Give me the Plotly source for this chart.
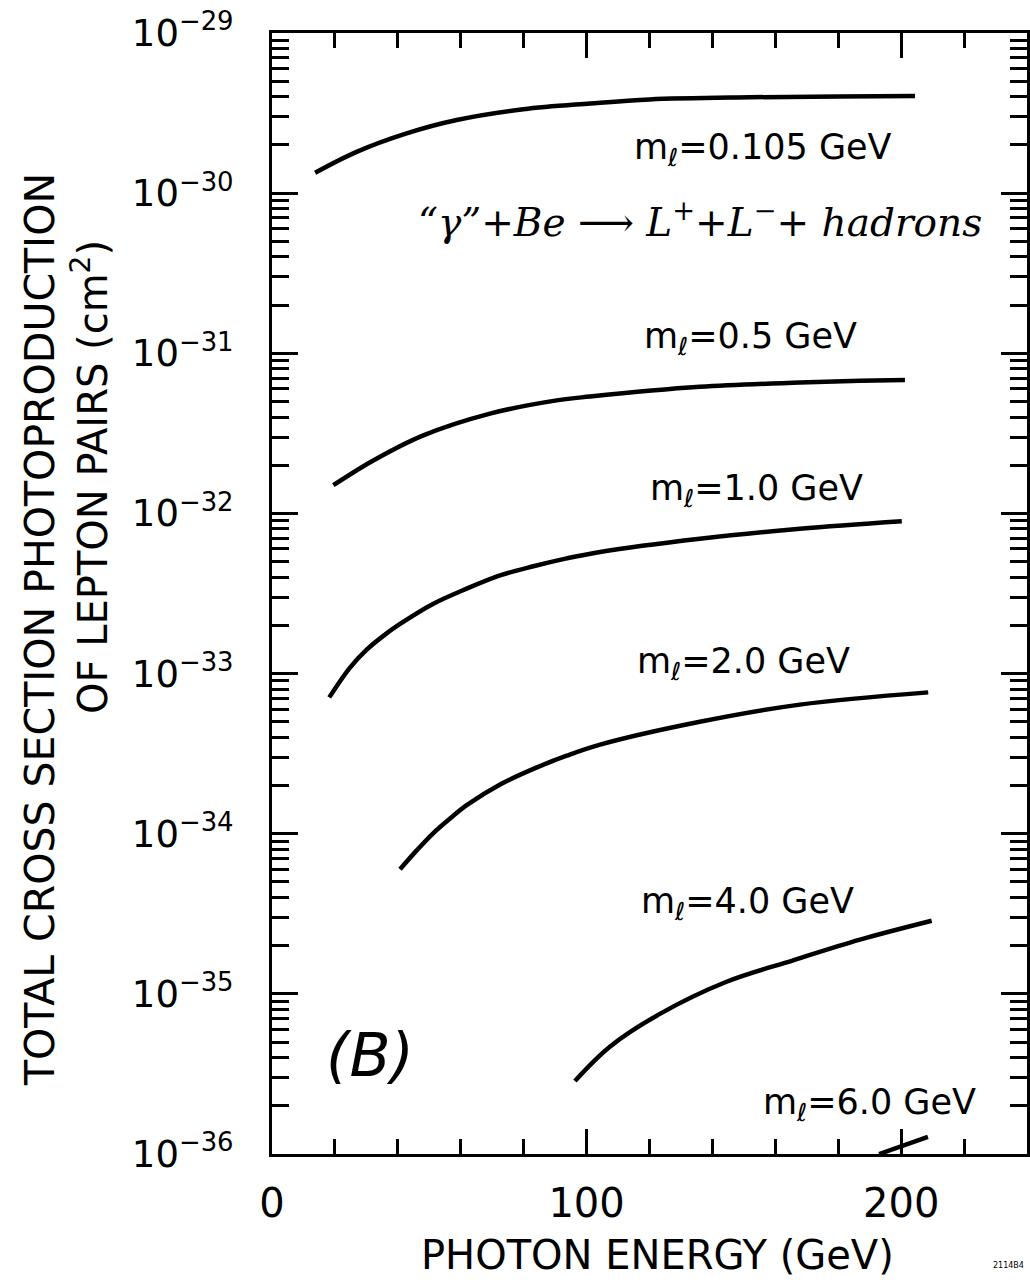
import math
import plotly.graph_objects as go

# ---- data ----
E_0105 = [13.7, 26.9, 42.8, 58.7, 79.9, 101.1, 120.0, 152.0, 180.0, 204.4]
S_0105 = [1.34e-30, 1.81e-30, 2.36e-30, 2.86e-30, 3.34e-30, 3.63e-30, 3.85e-30, 3.97e-30, 4.02e-30, 4.04e-30]

E_05 = [19.5, 32.2, 48.1, 69.3, 90.5, 101.1, 136.0, 167.8, 186.9, 201.2]
S_05 = [1.50e-32, 2.14e-32, 3.07e-32, 4.20e-32, 5.08e-32, 5.37e-32, 6.17e-32, 6.56e-32, 6.73e-32, 6.82e-32]

E_10 = [18.2, 24.8, 30.1, 35.4, 40.7, 51.3, 61.9, 72.5, 83.1, 93.7, 104.3, 136.0, 167.8, 200.2]
S_10 = [7.1e-34, 1.09e-33, 1.41e-33, 1.72e-33, 2.04e-33, 2.73e-33, 3.39e-33, 4.10e-33, 4.68e-33,
        5.24e-33, 5.75e-33, 6.95e-33, 8.03e-33, 8.95e-33]

E_20 = [40.7, 46.0, 51.3, 56.6, 61.9, 72.5, 83.1, 93.7, 104.3, 136.0, 167.8, 208.6]
S_20 = [6.0e-35, 7.87e-35, 1.01e-34, 1.245e-34, 1.507e-34, 2.03e-34, 2.54e-34, 3.07e-34, 3.60e-34,
        5.0e-34, 6.40e-34, 7.63e-34]

E_40 = [96.3, 107.4, 123.3, 144.5, 165.7, 186.9, 209.7]
S_40 = [2.86e-36, 4.68e-36, 7.5e-36, 1.19e-35, 1.62e-35, 2.18e-35, 2.86e-35]

E_60 = [193.0, 208.5]
S_60 = [1.0e-36, 1.28e-36]

curves = [
    ("0.105", E_0105, S_0105),
    ("0.5", E_05, S_05),
    ("1.0", E_10, S_10),
    ("2.0", E_20, S_20),
    ("4.0", E_40, S_40),
    ("6.0", E_60, S_60),
]

x_tickvals = [0, 100, 200]
x_ticktext = ["0", "100", "200"]
y_exponents = [-36, -35, -34, -33, -32, -31, -30, -29]
y_tickvals = [10.0 ** e for e in y_exponents]
y_ticktext = ["10<sup>\u2212%d</sup>" % (-e) for e in y_exponents]

label_text = ["m<sub>\u2113</sub>=0.105 GeV", "m<sub>\u2113</sub>=0.5 GeV", "m<sub>\u2113</sub>=1.0 GeV",
              "m<sub>\u2113</sub>=2.0 GeV", "m<sub>\u2113</sub>=4.0 GeV", "m<sub>\u2113</sub>=6.0 GeV"]
label_x = [156, 152, 154, 150, 151, 190]
label_y = [1.86e-30, 1.24e-31, 1.39e-32, 1.15e-33, 3.65e-35, 2.05e-36]

FONT = "DejaVu Sans"

fig = go.Figure()
for name, xs, ys in curves:
    fig.add_trace(go.Scatter(x=xs, y=ys, mode="lines", name=name,
                             line=dict(color="black", width=4.5, shape="spline", smoothing=1.0),
                             showlegend=False, hoverinfo="skip"))

ann = []
for t, xx, yy in zip(label_text, label_x, label_y):
    ann.append(dict(x=xx, y=math.log10(yy), xref="x", yref="y", text=t,
                    showarrow=False, font=dict(family=FONT, size=35, color="black"),
                    xanchor="center", yanchor="middle"))

ann.append(dict(x=(700 - 272) / 755, y=(1154 - 220) / 1121, xref="paper", yref="paper",
                text='<i>\u201c\u03b3\u201d+Be \u27f6 L<sup>+</sup>+L<sup>\u2212</sup>+ hadrons</i>',
                showarrow=False, font=dict(family="DejaVu Serif", size=39, color="black"),
                xanchor="center", yanchor="middle"))
ann.append(dict(x=(370 - 272) / 755, y=(1154 - 1055) / 1121, xref="paper", yref="paper",
                text="<i>(B)</i>",
                showarrow=False, font=dict(family=FONT, size=60, color="black"),
                xanchor="center", yanchor="middle"))
# axis titles
ann.append(dict(x=(40 - 272) / 755, y=(1154 - 630) / 1121, xref="paper", yref="paper",
                text="TOTAL CROSS SECTION PHOTOPRODUCTION", textangle=-90,
                showarrow=False, font=dict(family=FONT, size=41, color="black"),
                xanchor="center", yanchor="middle"))
ann.append(dict(x=(90 - 272) / 755, y=(1154 - 477) / 1121, xref="paper", yref="paper",
                text="OF LEPTON PAIRS (cm<sup>2</sup>)", textangle=-90,
                showarrow=False, font=dict(family=FONT, size=40, color="black"),
                xanchor="center", yanchor="middle"))
ann.append(dict(x=(657 - 272) / 755, y=(1154 - 1255) / 1121, xref="paper", yref="paper",
                text="PHOTON ENERGY (GeV)",
                showarrow=False, font=dict(family=FONT, size=40, color="black"),
                xanchor="center", yanchor="middle"))
ann.append(dict(x=(1008 - 272) / 755, y=(1154 - 1265) / 1121, xref="paper", yref="paper",
                text="2114B4", showarrow=False, font=dict(family=FONT, size=8, color="black"),
                xanchor="center", yanchor="middle"))

fig.update_layout(
    width=1030, height=1283,
    margin=dict(l=272, r=3, t=33, b=129, autoexpand=False),
    paper_bgcolor="white", plot_bgcolor="white",
    annotations=ann,
    font=dict(family=FONT, color="black"),
)
fig.update_xaxes(
    range=[0, 240], showgrid=False, zeroline=False,
    showline=True, linecolor="black", linewidth=3, mirror="ticks",
    tickmode="array", tickvals=x_tickvals, ticktext=x_ticktext,
    ticks="inside", ticklen=25, tickwidth=2.5, tickcolor="black",
    ticklabelstandoff=12,
    tickfont=dict(family=FONT, size=40, color="black"),
    minor=dict(dtick=20, ticks="inside", ticklen=15, tickwidth=2.5, tickcolor="black", showgrid=False),
)
fig.update_yaxes(
    type="log", range=[-36, -29], showgrid=False, zeroline=False,
    showline=True, linecolor="black", linewidth=3, mirror="ticks",
    tickmode="array", tickvals=y_tickvals, ticktext=y_ticktext,
    ticks="inside", ticklen=26, tickwidth=2.5, tickcolor="black",
    ticklabelstandoff=28,
    tickfont=dict(family=FONT, size=37, color="black"),
    minor=dict(dtick="D1", ticks="inside", ticklen=17, tickwidth=2.5, tickcolor="black", showgrid=False),
)

fig.write_html("out.html")
